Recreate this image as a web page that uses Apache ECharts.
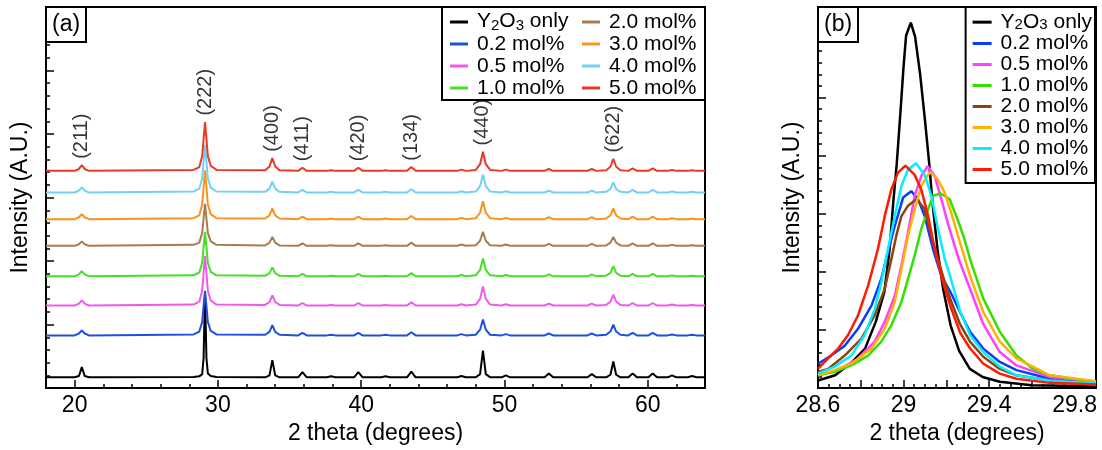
<!DOCTYPE html>
<html>
<head>
<meta charset="utf-8">
<script src="https://cdn.jsdelivr.net/npm/echarts@6/dist/echarts.min.js"></script>
<style>
  html, body { margin: 0; padding: 0; background: #fff; }
  #chart { width: 1102px; height: 450px; }
</style>
</head>
<body>
<div id="chart"></div>
<script>
// ---------- data ----------
const seriesNames = ['Y2O3 only', '0.2 mol%', '0.5 mol%', '1.0 mol%', '2.0 mol%', '3.0 mol%', '4.0 mol%', '5.0 mol%'];

// Panel (a): full scans, 2θ sampling points shared by all patterns
const twoTheta = [18.0,
  20.0, 20.3, 20.5, 20.7, 21.0,
  28.3, 28.7, 28.9, 29.0, 29.1, 29.2, 29.3, 29.5, 29.9,
  33.3, 33.6, 33.8, 34.0, 34.3,
  35.6, 35.9, 36.2,
  37.6, 37.9, 38.2,
  39.5, 39.8, 40.1,
  41.4, 41.7, 42.0,
  43.2, 43.5, 43.8,
  46.7, 47.0, 47.3,
  48.0, 48.3, 48.5, 48.7, 49.0,
  49.8, 50.1, 50.4,
  52.8, 53.1, 53.4,
  55.8, 56.1, 56.4,
  57.1, 57.4, 57.6, 57.8, 58.1,
  58.65, 58.95, 59.25,
  60.05, 60.35, 60.65,
  61.4, 61.7, 62.0,
  62.8, 63.1, 63.4,
  64.0];

// vertical stacking offset of each pattern (A.U.)
const patternOffsets = [17, 83, 130, 176, 224, 266, 308, 342];

const scan_Y2O3 = [0,
  0, 2, 16, 2, 0,
  0.5, 1.5, 5, 30, 132, 30, 6, 2, 0.5,
  0, 3, 27, 3, 0,
  0, 8, 0,
  0, 1.5, 0,
  0, 8, 0,
  0, 1.5, 0,
  0, 9, 0,
  0, 2, 0,
  0, 5, 42, 5, 0,
  0, 3, 0,
  0, 6, 0,
  0, 5, 0,
  0, 4, 25, 4, 0,
  0, 6, 0,
  0, 6, 0,
  0, 3, 0,
  0, 2, 0,
  0];
const scan_02 = [0,
  0, 3, 8, 3, 0,
  1.5, 6, 21, 46, 70, 46, 21, 7, 1.5,
  1, 5.5, 16, 5.5, 1,
  0, 4, 0,
  0, 1, 0,
  0, 4, 0,
  0, 1, 0,
  0, 5, 0,
  0, 2, 0,
  1, 9, 25, 9, 1,
  0, 2, 0,
  0, 3, 0,
  0, 3, 0,
  1, 6, 17, 6, 1,
  0, 4, 0,
  0, 4, 0,
  0, 1.5, 0,
  0, 1, 0,
  0];
const scan_05 = [0,
  0, 3, 8, 3, 0,
  1.5, 6, 23, 51, 78, 51, 23, 8, 1.5,
  1, 5.5, 16, 5.5, 1,
  0, 4, 0,
  0, 1, 0,
  0, 4, 0,
  0, 1, 0,
  0, 5, 0,
  0, 2, 0,
  1.5, 10.5, 30, 10.5, 1.5,
  0, 2, 0,
  0, 3, 0,
  0, 3, 0,
  1, 6, 17, 6, 1,
  0, 4, 0,
  0, 4, 0,
  0, 1.5, 0,
  0, 1, 0,
  0];
const scan_10 = [0,
  0, 3, 8, 3, 0,
  1.5, 6, 21, 46, 70, 46, 21, 7, 1.5,
  0.7, 5, 14, 5, 0.7,
  0, 4, 0,
  0, 1, 0,
  0, 4, 0,
  0, 1, 0,
  0, 5, 0,
  0, 2, 0,
  1.5, 10, 28, 10, 1.5,
  0, 2, 0,
  0, 3, 0,
  0, 3, 0,
  1, 5.5, 16, 5.5, 1,
  0, 4, 0,
  0, 4, 0,
  0, 1.5, 0,
  0, 1, 0,
  0];
const scan_20 = [0,
  0, 2.5, 7, 2.5, 0,
  1.5, 5, 20, 43, 66, 43, 20, 7, 1.5,
  0.7, 5, 14, 5, 0.7,
  0, 4, 0,
  0, 1, 0,
  0, 4, 0,
  0, 1, 0,
  0, 5, 0,
  0, 2, 0,
  1, 8, 22, 8, 1,
  0, 2, 0,
  0, 3, 0,
  0, 3, 0,
  0.7, 5, 14, 5, 0.7,
  0, 4, 0,
  0, 4, 0,
  0, 1.5, 0,
  0, 1, 0,
  0];
const scan_30 = [0,
  0, 3, 8, 3, 0,
  1.5, 6, 23, 50, 77, 50, 23, 8, 1.5,
  1, 6, 17, 6, 1,
  0, 4, 0,
  0, 1, 0,
  0, 4, 0,
  0, 1, 0,
  0, 5, 0,
  0, 2, 0,
  1.5, 10, 28, 10, 1.5,
  0, 2, 0,
  0, 3, 0,
  0, 3, 0,
  1, 6, 17, 6, 1,
  0, 4, 0,
  0, 4, 0,
  0, 1.5, 0,
  0, 1, 0,
  0];
const scan_40 = [0,
  0, 3, 8, 3, 0,
  1.5, 6, 22, 49, 75, 49, 22, 7.5, 1.5,
  1, 6, 17, 6, 1,
  0, 4, 0,
  0, 1, 0,
  0, 4, 0,
  0, 1, 0,
  0, 5, 0,
  0, 2, 0,
  1.5, 10, 28, 10, 1.5,
  0, 2, 0,
  0, 3, 0,
  0, 3, 0,
  1, 5.5, 16, 5.5, 1,
  0, 4, 0,
  0, 4, 0,
  0, 1.5, 0,
  0, 1, 0,
  0];
const scan_50 = [0,
  0, 3, 9, 3, 0,
  1.5, 6, 23, 50, 77, 50, 23, 8, 1.5,
  1, 7, 20, 7, 1,
  0, 5, 0,
  0, 1, 0,
  0, 5, 0,
  0, 1, 0,
  0, 6, 0,
  0, 2, 0,
  1.5, 10.5, 30, 10.5, 1.5,
  0, 2, 0,
  0, 3, 0,
  0, 3, 0,
  1, 6.5, 19, 6.5, 1,
  0, 4, 0,
  0, 4, 0,
  0, 1.5, 0,
  0, 1, 0,
  0];

// Miller indices of the labelled reflections
const hklAngles = [20.5, 29.1, 33.8, 35.9, 39.8, 43.5, 48.5, 57.6];
const hklLabels = ['(211)', '(222)', '(400)', '(411)', '(420)', '(134)', '(440)', '(622)'];

// Panel (b): (222) reflection, [2θ, intensity]
const p222_Y2O3 = [[28.60,0.13],[28.68,0.22],[28.76,0.45],[28.82,0.68],[28.87,1.14],[28.91,1.65],[28.935,2.39],[28.952,3.2],[28.968,3.85],[28.984,4.67],[29.0,5.53],[29.012,6.07],[29.034,6.29],[29.054,6.05],[29.077,5.42],[29.10,4.62],[29.12,3.87],[29.137,3.13],[29.16,2.35],[29.185,1.71],[29.22,1.08],[29.26,0.64],[29.31,0.33],[29.37,0.19],[29.45,0.11],[29.6,0.05],[29.9,0.03]];
const p222_02 = [[28.6,0.42],[28.662,0.56],[28.725,0.73],[28.787,1.02],[28.85,1.42],[28.896,1.88],[28.927,2.34],[28.959,2.79],[28.998,3.28],[29.036,3.39],[29.068,3.25],[29.099,2.96],[29.138,2.39],[29.177,1.93],[29.22,1.65],[29.264,1.31],[29.311,0.97],[29.373,0.68],[29.45,0.45],[29.528,0.31],[29.684,0.16],[29.9,0.08]];
const p222_05 = [[28.6,0.22],[28.694,0.31],[28.787,0.51],[28.865,0.80],[28.912,1.14],[28.959,1.59],[28.99,2.11],[29.021,2.68],[29.052,3.31],[29.083,3.65],[29.113,3.82],[29.146,3.65],[29.177,3.25],[29.21,2.8],[29.26,2.2],[29.311,1.71],[29.373,1.1],[29.45,0.62],[29.528,0.39],[29.684,0.19],[29.9,0.11]];
const p222_10 = [[28.6,0.22],[28.678,0.28],[28.756,0.39],[28.834,0.56],[28.896,0.80],[28.943,1.08],[28.99,1.48],[29.021,1.88],[29.052,2.28],[29.083,2.74],[29.115,3.08],[29.138,3.31],[29.174,3.35],[29.216,3.25],[29.258,2.85],[29.286,2.55],[29.311,2.22],[29.373,1.54],[29.45,0.97],[29.528,0.56],[29.606,0.33],[29.684,0.22],[29.81,0.15],[29.9,0.11]];
const p222_20 = [[28.6,0.28],[28.647,0.33],[28.725,0.56],[28.803,0.85],[28.865,1.25],[28.912,1.71],[28.943,2.22],[28.966,2.62],[28.99,2.96],[29.021,3.14],[29.061,3.25],[29.099,3.08],[29.13,2.62],[29.161,2.22],[29.193,1.82],[29.22,1.52],[29.264,1.10],[29.311,0.80],[29.373,0.54],[29.45,0.33],[29.528,0.22],[29.684,0.13],[29.9,0.05]];
const p222_30 = [[28.6,0.22],[28.678,0.31],[28.756,0.42],[28.85,0.68],[28.912,1.02],[28.959,1.48],[28.99,2.05],[29.021,2.62],[29.052,3.08],[29.083,3.48],[29.123,3.72],[29.161,3.59],[29.193,3.36],[29.218,3.08],[29.264,2.51],[29.311,1.93],[29.373,1.31],[29.45,0.80],[29.528,0.51],[29.684,0.22],[29.9,0.12]];
const p222_40 = [[28.6,0.25],[28.678,0.37],[28.756,0.56],[28.818,0.91],[28.865,1.36],[28.896,1.82],[28.927,2.39],[28.959,2.96],[28.99,3.48],[29.021,3.76],[29.058,3.87],[29.099,3.67],[29.13,3.31],[29.161,2.74],[29.193,2.22],[29.22,1.9],[29.264,1.33],[29.311,0.91],[29.373,0.62],[29.45,0.37],[29.528,0.22],[29.684,0.13],[29.9,0.08]];
const p222_50 = [[28.6,0.33],[28.647,0.51],[28.694,0.68],[28.74,0.91],[28.787,1.25],[28.834,1.76],[28.88,2.39],[28.912,2.96],[28.943,3.42],[28.974,3.71],[29.009,3.83],[29.052,3.67],[29.083,3.42],[29.115,2.96],[29.146,2.39],[29.185,1.82],[29.22,1.40],[29.265,0.95],[29.31,0.69],[29.373,0.42],[29.45,0.25],[29.528,0.16],[29.684,0.09],[29.9,0.06]];

// ---------- styles ----------
const colorsA = ['#000000', '#1f4fe0', '#ec5ce8', '#45e025', '#a97c50', '#f7941d', '#72d0f4', '#ea3a24'];
const colorsB = ['#000000', '#0a3cff', '#ff40ff', '#33e000', '#8b4513', '#ffb000', '#00f0ff', '#ff1a00'];

const scansA = [scan_Y2O3, scan_02, scan_05, scan_10, scan_20, scan_30, scan_40, scan_50];
const scansB = [p222_Y2O3, p222_02, p222_05, p222_10, p222_20, p222_30, p222_40, p222_50];

const FONT = 'Liberation Sans, Arial, Helvetica, sans-serif';
const black = '#000';

// tick positions
const ticksA = [20, 30, 40, 50, 60];
const minorTicksA = [];
for (let v = 20; v <= 62; v += 2) if (v % 10 !== 0) minorTicksA.push(v);
const ticksB = [];
for (let k = 0; k <= 6; k++) ticksB.push(+(28.6 + 0.2 * k).toFixed(2));
const labelsB = [28.6, 29, 29.4, 29.8];
const minorTicksB = [];
for (let k = 1; k <= 25; k++) if (k % 4 !== 0) minorTicksB.push(+(28.6 + 0.05 * k).toFixed(2));
const yTicksB = [0, 1, 2, 3, 4, 5, 6];
const yMinorTicksB = [];
for (let k = 1; k <= 32; k++) if (k % 5 !== 0) yMinorTicksB.push(+(0.2 * k).toFixed(2));

const axisLine = { show: true, onZero: false, lineStyle: { color: black, width: 2 } };
const nameStyle = { fontSize: 23, color: black, fontFamily: FONT };

function minorAxis(extra) {
  return Object.assign({
    type: 'value',
    axisLine: { show: false, onZero: false },
    axisLabel: { show: false },
    splitLine: { show: false },
    axisTick: { show: true, inside: true, length: 4, lineStyle: { color: black, width: 1.5 } }
  }, extra);
}

const legendRich = {
  n: { fontSize: 21, color: black, fontFamily: FONT, verticalAlign: 'top' },
  s: { fontSize: 15, color: black, fontFamily: FONT, verticalAlign: 'bottom' }
};
const legendFormatter = name => name === 'Y2O3 only' ? '{n|Y}{s|2}{n|O}{s|3}{n| only}' : name;

// ---------- series ----------
const series = [];
seriesNames.forEach((name, i) => {
  series.push({
    type: 'line', name,
    xAxisIndex: 0, yAxisIndex: 0,
    data: twoTheta.map((t, j) => [t, patternOffsets[i] + scansA[i][j]]),
    symbol: 'none', showSymbol: false, silent: true,
    lineStyle: { width: 2, color: colorsA[i] },
    itemStyle: { color: colorsA[i] }
  });
});
seriesNames.forEach((name, i) => {
  series.push({
    type: 'line', name,
    xAxisIndex: 2, yAxisIndex: 1,
    data: scansB[i],
    symbol: 'none', showSymbol: false, silent: true,
    lineStyle: { width: 2.5, color: colorsB[i] },
    itemStyle: { color: colorsB[i] }
  });
});

// hkl labels sit just above the top pattern
const topScan = scansA[scansA.length - 1];
const topOffset = patternOffsets[patternOffsets.length - 1];
series.push({
  type: 'scatter',
  xAxisIndex: 0, yAxisIndex: 0,
  symbolSize: 1,
  silent: true,
  itemStyle: { color: 'rgba(0,0,0,0)' },
  data: hklAngles.map((a, i) => {
    const j = twoTheta.indexOf(a);
    return { name: hklLabels[i], value: [a, topOffset + topScan[j] + 10] };
  }),
  label: {
    show: true, formatter: '{b}', position: 'inside',
    rotate: 90, align: 'left', verticalAlign: 'middle',
    fontSize: 20, color: black, fontFamily: FONT
  },
  z: 5
});

const option = {
  animation: false,
  backgroundColor: '#fff',
  textStyle: { fontFamily: FONT },
  title: [
    { text: '(a)', left: 46, top: 7, padding: [6, 6, 6, 6], borderWidth: 2, borderColor: black, backgroundColor: '#fff',
      textStyle: { fontSize: 23, fontWeight: 'normal', color: black, fontFamily: FONT } },
    { text: '(b)', left: 818, top: 7, padding: [6, 6, 6, 6], borderWidth: 2, borderColor: black, backgroundColor: '#fff',
      textStyle: { fontSize: 23, fontWeight: 'normal', color: black, fontFamily: FONT } }
  ],
  grid: [
    { left: 46, right: 397, top: 7, bottom: 60, show: true, borderColor: black, borderWidth: 2, backgroundColor: 'transparent' },
    { left: 818, right: 6, top: 7, bottom: 60, show: true, borderColor: black, borderWidth: 2, backgroundColor: 'transparent' }
  ],
  xAxis: [
    { type: 'value', gridIndex: 0, min: 18, max: 64, position: 'bottom',
      axisLine,
      axisTick: { show: true, inside: true, length: 8, customValues: ticksA, lineStyle: { color: black, width: 1.5 } },
      axisLabel: { customValues: ticksA, fontSize: 23, color: black, margin: 6, fontFamily: FONT },
      splitLine: { show: false },
      name: '2 theta (degrees)', nameLocation: 'middle', nameGap: 33, nameTextStyle: nameStyle },
    minorAxis({ gridIndex: 0, min: 18, max: 64, position: 'bottom',
      axisTick: { show: true, inside: true, length: 4, customValues: minorTicksA, lineStyle: { color: black, width: 1.5 } } }),
    { type: 'value', gridIndex: 1, min: 28.6, max: 29.9, position: 'bottom',
      axisLine,
      axisTick: { show: true, inside: true, length: 8, customValues: ticksB, lineStyle: { color: black, width: 1.5 } },
      axisLabel: { customValues: labelsB, fontSize: 23, color: black, margin: 6, fontFamily: FONT },
      splitLine: { show: false },
      name: '2 theta (degrees)', nameLocation: 'middle', nameGap: 33, nameTextStyle: nameStyle },
    minorAxis({ gridIndex: 1, min: 28.6, max: 29.9, position: 'bottom',
      axisTick: { show: true, inside: true, length: 4, customValues: minorTicksB, lineStyle: { color: black, width: 1.5 } } })
  ],
  yAxis: [
    { type: 'value', gridIndex: 0, min: 0, max: 600, interval: 100, position: 'left',
      axisLine,
      axisTick: { show: true, inside: true, length: 8, lineStyle: { color: black, width: 1.5 } },
      minorTick: { show: true, splitNumber: 5, length: 4, lineStyle: { color: black, width: 1.5 } },
      axisLabel: { show: false },
      splitLine: { show: false },
      name: 'Intensity (A.U.)', nameLocation: 'middle', nameGap: 14, nameTextStyle: nameStyle },
    { type: 'value', gridIndex: 1, min: 0, max: 6.56, position: 'left',
      axisLine,
      axisTick: { show: true, inside: true, length: 8, customValues: yTicksB, lineStyle: { color: black, width: 1.5 } },
      axisLabel: { show: false },
      splitLine: { show: false },
      name: 'Intensity (A.U.)', nameLocation: 'middle', nameGap: 14, nameTextStyle: nameStyle },
    minorAxis({ gridIndex: 1, min: 0, max: 6.56, position: 'left',
      axisTick: { show: true, inside: true, length: 4, customValues: yMinorTicksB, lineStyle: { color: black, width: 1.5 } } })
  ],
  legend: [
    { orient: 'vertical', left: 450, top: 11, padding: 0, itemGap: 0, itemWidth: 18, itemHeight: 3,
      icon: 'rect', selectedMode: false, z: 6,
      data: seriesNames.slice(0, 4),
      formatter: legendFormatter,
      textStyle: { fontSize: 21, lineHeight: 22, color: black, fontFamily: FONT, padding: [0, 0, 0, 4], rich: legendRich } },
    { orient: 'vertical', left: 582, top: 11, padding: 0, itemGap: 0, itemWidth: 18, itemHeight: 3,
      icon: 'rect', selectedMode: false, z: 6,
      data: seriesNames.slice(4),
      formatter: legendFormatter,
      textStyle: { fontSize: 21, lineHeight: 22, color: black, fontFamily: FONT, padding: [0, 0, 0, 4], rich: legendRich } },
    { orient: 'vertical', right: 7, top: 7, padding: [5, 3, 3, 7], itemGap: 0, itemWidth: 19, itemHeight: 3,
      icon: 'rect', selectedMode: false, z: 6,
      backgroundColor: '#fff', borderColor: black, borderWidth: 2, borderRadius: 0,
      data: seriesNames.map((n, i) => ({ name: n, itemStyle: { color: colorsB[i] } })),
      formatter: legendFormatter,
      textStyle: { fontSize: 21, lineHeight: 20.3, color: black, fontFamily: FONT, padding: [0, 0, 0, 4], rich: legendRich } }
  ],
  graphic: [
    { type: 'rect', z: 3, silent: true,
      shape: { x: 442, y: 7, width: 263, height: 93 },
      style: { fill: '#fff', stroke: black, lineWidth: 2 } }
  ],
  series
};

const chart = echarts.init(document.getElementById('chart'), null, { renderer: 'canvas' });
chart.setOption(option);
</script>
</body>
</html>
